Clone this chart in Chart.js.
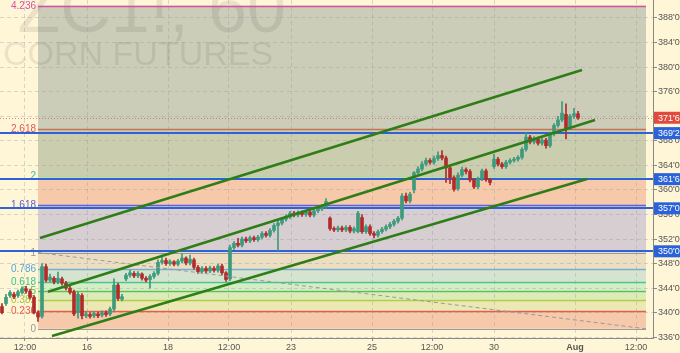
<!DOCTYPE html>
<html>
<head>
<meta charset="utf-8">
<script src="https://cdn.jsdelivr.net/npm/chart.js"></script>
<style>
  html, body { margin: 0; padding: 0; background: #fff5d7; }
  #wrap { width: 680px; height: 353px; }
</style>
</head>
<body>
<div id="wrap"><canvas id="myChart" width="680" height="353"></canvas></div>
<script>
// hourly candles, ZC1! 60
const opens = [
  341.0, 341.5, 342.8, 343.0, 342.8, 343.3, 343.9, 343.5, 342.5, 340.0,
  339.4, 347.5, 345.3, 345.6, 345.0, 345.5, 344.8, 344.0, 343.4, 340.0,
  342.8, 339.5, 339.7, 339.5, 339.8, 339.6, 340.0, 339.8, 340.6, 344.5,
  342.2, 345.5, 346.1, 346.4, 346.0, 346.3, 345.6, 345.4, 345.9, 346.4,
  348.2, 348.5, 348.0, 348.3, 347.9, 348.4, 348.9, 348.1, 348.6, 347.4,
  346.7, 347.2, 346.8, 347.2, 346.9, 347.6, 346.5, 345.5, 350.6, 351.3,
  351.0, 352.0, 351.7, 352.2, 351.9, 352.3, 352.9, 352.6, 353.4, 354.2,
  354.6, 355.2, 355.6, 356.2, 355.9, 356.3, 356.0, 356.4, 355.9, 356.6,
  356.9, 357.3, 355.4, 353.7, 353.5, 353.8, 353.5, 353.9, 353.3, 353.2,
  355.5, 353.2, 354.0, 352.9, 352.6, 353.2, 353.6, 354.0, 354.4, 354.9,
  355.4, 359.0, 358.2, 360.0, 362.8, 363.4, 364.2, 364.8, 364.5, 365.1,
  365.6, 365.2, 363.6, 362.0, 360.2, 362.4, 363.3, 363.0, 361.6, 360.5,
  361.8, 363.1, 361.7, 363.8, 365.0, 364.2, 363.8, 364.5, 364.8, 365.0,
  365.3, 366.6, 368.6, 367.8, 368.3, 367.6, 368.1, 367.2, 369.1, 370.5,
  371.4, 372.3, 370.1, 372.0, 372.4
];
const closes = [
  340.0, 342.5, 343.3, 342.6, 343.4, 343.9, 343.5, 342.5, 340.0, 339.3,
  347.5, 345.3, 345.8, 345.0, 345.6, 344.8, 344.0, 343.3, 339.8, 343.0,
  339.5, 339.8, 339.4, 339.9, 339.5, 340.0, 339.7, 340.6, 344.5, 342.3,
  342.6, 346.1, 346.5, 346.0, 346.4, 345.6, 345.3, 345.9, 346.4, 348.2,
  348.5, 348.0, 348.3, 347.9, 348.4, 348.9, 348.1, 348.7, 347.4, 346.7,
  347.2, 346.8, 347.3, 346.9, 347.6, 346.5, 345.4, 350.6, 351.3, 351.0,
  352.0, 351.7, 352.2, 351.9, 352.3, 352.9, 352.6, 353.4, 354.2, 354.6,
  355.2, 355.6, 356.2, 355.9, 356.3, 356.0, 356.4, 355.9, 356.6, 356.9,
  357.3, 358.1, 353.7, 353.5, 353.8, 353.5, 353.9, 353.3, 353.7, 356.2,
  353.2, 354.0, 352.9, 352.6, 353.2, 353.6, 354.0, 354.4, 354.9, 355.4,
  359.0, 358.2, 359.3, 362.8, 363.4, 364.2, 364.8, 364.5, 365.1, 365.6,
  365.2, 363.6, 362.0, 360.1, 362.4, 363.3, 363.0, 361.6, 360.5, 361.8,
  363.1, 361.7, 361.2, 365.0, 364.2, 363.8, 364.5, 364.8, 365.0, 365.3,
  366.6, 368.6, 367.8, 368.3, 367.6, 368.1, 367.2, 369.1, 370.5, 371.4,
  372.5, 370.1, 372.0, 372.4, 371.75
];
const highs = [
  341.5, 343.0, 343.6, 343.3, 343.7, 344.2, 344.3, 343.8, 342.8, 340.3,
  348.0, 347.9, 346.3, 345.9, 346.6, 345.8, 345.1, 344.3, 343.7, 343.4,
  343.1, 340.2, 340.0, 340.2, 340.1, 340.3, 340.3, 340.9, 345.5, 344.8,
  343.0, 346.4, 346.9, 346.7, 346.7, 346.5, 345.9, 346.2, 346.7, 348.6,
  349.4, 348.9, 348.6, 348.5, 348.7, 349.6, 349.1, 349.4, 348.9, 347.7,
  347.5, 347.5, 347.6, 347.5, 347.9, 347.9, 346.7, 351.0, 351.6, 352.1,
  352.3, 352.3, 352.5, 352.5, 352.6, 353.2, 353.2, 353.7, 354.5, 355.0,
  355.5, 356.0, 356.5, 356.5, 356.6, 356.6, 356.7, 356.7, 356.9, 357.2,
  357.6, 358.6, 355.6, 354.0, 354.1, 354.1, 354.2, 354.2, 354.0, 356.5,
  356.0, 354.3, 354.3, 353.2, 353.5, 353.9, 354.3, 354.7, 355.2, 355.7,
  359.4, 359.5, 359.6, 363.0, 363.8, 364.6, 365.2, 365.1, 365.5, 366.2,
  366.4, 365.5, 363.9, 362.3, 362.8, 363.7, 363.6, 363.3, 361.9, 362.1,
  363.4, 363.4, 361.9, 365.8, 365.3, 364.5, 364.8, 365.1, 365.3, 365.6,
  366.9, 369.3, 368.9, 368.7, 368.6, 368.4, 368.4, 369.4, 370.8, 372.0,
  374.4, 374.0, 372.3, 373.3, 372.8
];
const lows = [
  339.8, 341.2, 342.5, 342.3, 342.5, 343.0, 343.2, 342.2, 339.8, 338.6,
  339.1, 345.0, 345.0, 344.7, 344.7, 344.5, 343.7, 343.0, 339.5, 339.1,
  339.0, 339.2, 339.1, 339.2, 339.2, 339.3, 339.4, 339.5, 340.3, 342.0,
  341.9, 345.2, 345.8, 345.7, 345.7, 345.3, 345.0, 344.0, 345.6, 346.1,
  347.9, 347.7, 347.7, 347.6, 347.6, 348.1, 347.8, 347.8, 347.1, 346.4,
  346.4, 346.5, 346.5, 346.6, 346.6, 346.2, 345.1, 345.2, 350.3, 350.7,
  350.7, 351.4, 351.4, 351.6, 351.6, 352.0, 352.3, 352.3, 353.1, 350.1,
  354.3, 354.9, 355.3, 355.6, 355.6, 355.7, 355.7, 355.6, 355.6, 356.3,
  356.6, 357.0, 353.4, 353.2, 353.2, 353.2, 353.2, 353.0, 353.0, 353.0,
  352.9, 352.9, 352.6, 352.2, 352.3, 352.9, 353.3, 353.7, 354.1, 354.6,
  355.1, 357.9, 357.9, 359.5, 362.5, 363.1, 363.9, 364.2, 364.2, 364.8,
  364.9, 361.2, 361.0, 359.8, 359.9, 362.1, 362.6, 361.3, 360.2, 360.2,
  361.5, 361.4, 360.8, 363.5, 363.9, 363.5, 363.5, 364.2, 364.5, 364.7,
  365.0, 366.3, 367.5, 367.5, 367.3, 367.3, 366.8, 366.9, 368.8, 370.2,
  371.1, 368.3, 369.8, 371.7, 371.5
];

// time axis labels (bar positions)
const tickLabels = ['12:00', '16', '18', '12:00', '23', '25', '12:00', '30', 'Aug', '12:00'];
const tickPos = [5.75, 21.25, 41.5, 56.75, 72.25, 92.5, 107.5, 123, 143.25, 158.5];
// price axis ticks
const priceTicks = [336, 340, 344, 348, 352, 356, 360, 364, 368, 372, 376, 380, 384, 388];

// fibonacci retracement / extension
const fibLow = 337.375;
const fibHigh = 349.8;
const fibStartBar = 9;
const fibEndBar = 161;
const fibRatios = [0, 0.236, 0.382, 0.5, 0.618, 0.786, 1, 1.618, 2, 2.618, 4.236];
const fibLabels = ['0', '0.236', '0.382', '0.5', '0.618', '0.786', '1', '1.618', '2', '2.618', '4.236'];

// horizontal lines and last price
const hLines = [369.25, 361.75, 357.0, 350.0];
const lastPrice = 371.75;

// regression channel
const channelUpper = [{x: 9.5, y: 352.17}, {x: 145, y: 379.53}];
const channelMid = [{x: 11.5, y: 343.42}, {x: 148.25, y: 371.38}];
const channelLow = [{x: 12.5, y: 336.2}, {x: 146.25, y: 361.78}];

const fibZoneColors = ['#f5c9aa', '#ece8b5', '#dcecb8', '#d5edc5', '#d6e4cf', '#ecdec1', '#d6ced1', '#f5c9aa', '#cacdae', '#cccdb9'];
const fibLineColors = ['#9a9a9a', '#e0604e', '#b4cc44', '#5cbf5a', '#48c494', '#76aed0', '#9a9a9a', '#5e62d4', '#9ee0b0', '#c8705a', '#d652a6'];
const fibTextColors = ['#999999', '#e0604e', '#a9c53a', '#4cbf4c', '#3cc48a', '#5aa8d6', '#999999', '#5b5bd6', '#35c0b0', '#e05a5a', '#d652a6'];

const upColor = '#3d9a7c';
const downColor = '#b02c2c';

function fmtPrice(p) {
  const whole = Math.floor(p + 1e-9);
  return whole + "'" + Math.round((p - whole) * 8);
}

const wicks = lows.map((l, i) => ({x: i, y: [l, highs[i]]}));
const bodies = opens.map((o, i) => ({x: i, y: [o, closes[i]]}));
const candleColor = c => closes[c.dataIndex] >= opens[c.dataIndex] ? upColor : downColor;

const backdrop = {
  id: 'backdrop',
  beforeDraw(chart) {
    const {ctx, scales: {x, y}} = chart;
    ctx.save();
    ctx.fillStyle = '#fff5d7';
    ctx.fillRect(0, 0, chart.width, chart.height);
    const x0 = x.getPixelForValue(fibStartBar);
    const x1 = x.getPixelForValue(fibEndBar);
    const span = fibHigh - fibLow;
    for (let i = 0; i < fibRatios.length - 1; i++) {
      const ya = y.getPixelForValue(fibLow + fibRatios[i] * span);
      const yb = y.getPixelForValue(fibLow + fibRatios[i + 1] * span);
      ctx.fillStyle = fibZoneColors[i];
      ctx.fillRect(x0, yb, x1 - x0, ya - yb);
    }
    // watermark
    ctx.fillStyle = 'rgba(0,0,0,0.08)';
    ctx.textBaseline = 'alphabetic';
    ctx.font = '70px "Liberation Sans"';
    ctx.textAlign = 'right';
    ctx.fillText('ZC1!, 60', 286, 32);
    ctx.textAlign = 'left';
    ctx.font = '34px "Liberation Sans"';
    ctx.fillText('CORN FUTURES', 3, 65);
    ctx.restore();
  }
};

const levels = {
  id: 'levels',
  beforeDatasetsDraw(chart) {
    const {ctx, chartArea, scales: {x, y}} = chart;
    const x0 = x.getPixelForValue(fibStartBar);
    const x1 = x.getPixelForValue(fibEndBar);
    const span = fibHigh - fibLow;
    ctx.save();
    fibRatios.forEach((r, i) => {
      const py = Math.round(y.getPixelForValue(fibLow + r * span)) + 0.5;
      ctx.strokeStyle = fibLineColors[i];
      ctx.lineWidth = (r === 0 || r === 1) ? 1 : 1.5;
      ctx.beginPath();
      ctx.moveTo(x0, py);
      ctx.lineTo(x1, py);
      ctx.stroke();
      ctx.fillStyle = fibTextColors[i];
      ctx.font = '10px "Liberation Sans"';
      ctx.textAlign = 'right';
      ctx.textBaseline = 'middle';
      ctx.fillText(fibLabels[i], x0 - 2, py);
    });
    // last price dotted line
    const lp = Math.round(y.getPixelForValue(lastPrice)) + 0.5;
    ctx.strokeStyle = 'rgba(205,90,90,0.7)';
    ctx.lineWidth = 1;
    ctx.setLineDash([1, 2]);
    ctx.beginPath();
    ctx.moveTo(chartArea.left, lp);
    ctx.lineTo(chartArea.right, lp);
    ctx.stroke();
    ctx.setLineDash([]);
    // horizontal lines
    ctx.strokeStyle = '#2f62d6';
    ctx.lineWidth = 2;
    hLines.forEach(v => {
      const py = Math.round(y.getPixelForValue(v));
      ctx.beginPath();
      ctx.moveTo(chartArea.left, py);
      ctx.lineTo(chartArea.right, py);
      ctx.stroke();
    });
    ctx.restore();
  },
  afterDraw(chart) {
    const {ctx, chartArea, scales: {y}} = chart;
    ctx.save();
    ctx.font = '9px "Liberation Sans"';
    ctx.textAlign = 'left';
    ctx.textBaseline = 'middle';
    const marks = hLines.map(v => ({v, c: '#2962d9'})).concat([{v: lastPrice, c: '#e04a3e'}]);
    marks.forEach(m => {
      const py = y.getPixelForValue(m.v);
      ctx.fillStyle = m.c;
      ctx.fillRect(chartArea.right + 1, py - 6, chart.width - chartArea.right - 1, 12);
      ctx.fillStyle = '#ffffff';
      ctx.fillText(fmtPrice(m.v), chartArea.right + 5, py + 0.5);
    });
    ctx.restore();
  }
};

const ctx = document.getElementById('myChart').getContext('2d');
new Chart(ctx, {
  type: 'bar',
  data: {
    datasets: [
      {type: 'line', data: channelUpper, borderColor: '#2f7d16', borderWidth: 2.5, pointRadius: 0},
      {type: 'line', data: channelMid, borderColor: '#2f7d16', borderWidth: 2.5, pointRadius: 0},
      {type: 'line', data: channelLow, borderColor: '#2f7d16', borderWidth: 2.5, pointRadius: 0},
      {type: 'line', data: [{x: fibStartBar, y: fibHigh}, {x: fibEndBar, y: fibLow}],
        borderColor: '#9a9a9a', borderWidth: 1, borderDash: [4, 3], pointRadius: 0},
      {data: bodies, backgroundColor: candleColor, barThickness: 3, grouped: false},
      {data: wicks, backgroundColor: candleColor, barThickness: 1, grouped: false}
    ]
  },
  options: {
    responsive: false,
    animation: false,
    events: [],
    layout: {padding: 0},
    plugins: {legend: {display: false}, tooltip: {enabled: false}},
    scales: {
      x: {
        type: 'linear',
        min: -0.5,
        max: 162.75,
        offset: false,
        afterFit: s => { s.height = 15; s.paddingLeft = 0; s.paddingRight = 0; },
        afterBuildTicks: s => { s.ticks = tickPos.map(v => ({value: v})); },
        grid: {color: 'rgba(150,150,165,0.35)', tickColor: '#888', tickLength: 3, offset: false},
        border: {color: '#888', dash: [4, 3]},
        ticks: {
          autoSkip: false, maxRotation: 0, padding: 1, color: '#555',
          font: c => ({family: '"Liberation Sans"', size: 9, weight: tickLabels[c.index] === 'Aug' ? 'bold' : 'normal'}),
          callback: (v, i) => tickLabels[i]
        }
      },
      y: {
        position: 'right',
        min: 335.88,
        max: 390.93,
        afterFit: s => { s.width = 27; s.paddingTop = 0; s.paddingBottom = 0; },
        afterBuildTicks: s => { s.ticks = priceTicks.map(v => ({value: v})); },
        grid: {color: 'rgba(150,150,165,0.35)', tickColor: '#888', tickLength: 4},
        border: {color: '#888', dash: [4, 3]},
        ticks: {
          padding: 1, color: '#555',
          font: {family: '"Liberation Sans"', size: 9},
          callback: v => fmtPrice(v)
        }
      }
    }
  },
  plugins: [backdrop, levels]
});
</script>
</body>
</html>
